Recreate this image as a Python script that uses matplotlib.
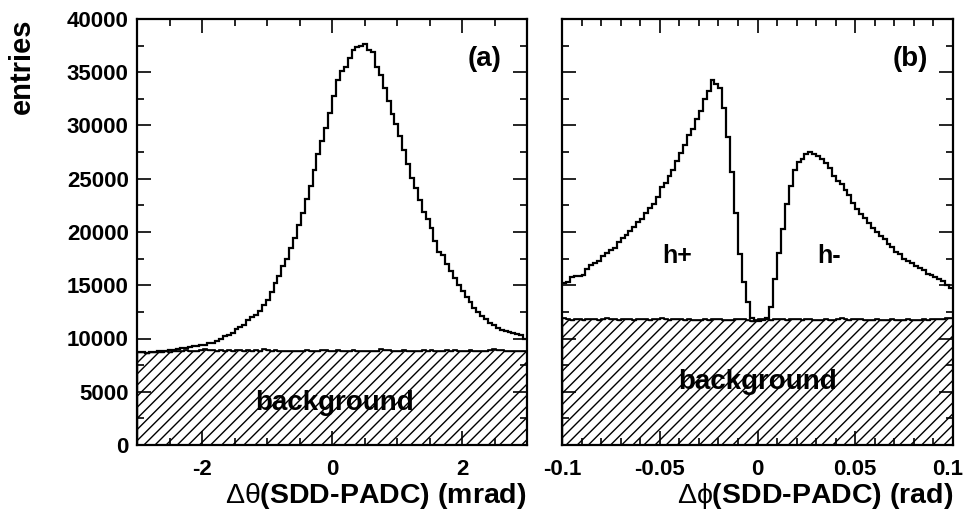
#!/usr/bin/env python3
# -*- coding: utf-8 -*-
from __future__ import annotations

import matplotlib

matplotlib.use("Agg")
import matplotlib.pyplot as plt
import matplotlib.transforms as mtransforms
import numpy as np
from matplotlib.ticker import MultipleLocator

FONT = ["Liberation Sans", "DejaVu Sans"]
plt.rcParams["mathtext.fontset"] = "custom"
plt.rcParams["mathtext.rm"] = "Liberation Sans"
plt.rcParams["mathtext.it"] = "Liberation Sans"
plt.rcParams["mathtext.bf"] = "Liberation Sans:bold"

# (a) delta theta, 100 bins over -3..3 mrad
THETA_RANGE = (-3.0, 3.0)
THETA_TOTAL = [
    8750, 8700, 8650, 8700, 8750, 8800, 8800, 8850, 8900, 8900,
    9000, 9100, 9150, 9200, 9250, 9300, 9350, 9400, 9550, 9600,
    9800, 9950, 10250, 10300, 10500, 10850, 11050, 11250, 11700, 12000,
    12200, 12600, 13100, 13600, 14400, 15200, 15900, 16800, 17500, 18500,
    19400, 20700, 21800, 23100, 24300, 25800, 27300, 28500, 29800, 31200,
    32800, 34300, 35100, 35500, 36300, 37100, 37400, 37450, 37650, 37100,
    36900, 35500, 34700, 33500, 32300, 31100, 30100, 29000, 27700, 26400,
    25100, 24100, 23000, 21900, 21200, 20400, 19200, 18100, 17800, 17000,
    16300, 15700, 15000, 14500, 13900, 13400, 12900, 12500, 12100, 11800,
    11500, 11300, 11000, 10800, 10700, 10600, 10500, 10400, 10300, 10000,
]
THETA_BKG = [
    8750, 8700, 8650, 8700, 8750, 8700, 8750, 8800, 8750, 8800,
    8850, 8800, 8900, 8850, 8800, 8850, 8900, 9050, 8950, 8900,
    8850, 8900, 8850, 8900, 8850, 8950, 8900, 8850, 8900, 8850,
    8900, 8850, 9050, 8900, 8850, 8900, 8850, 8800, 8850, 8800,
    8850, 8800, 8850, 8900, 8850, 8800, 8850, 8900, 8900, 8850,
    8850, 8900, 8850, 8800, 8850, 8900, 8850, 8800, 8850, 8800,
    8850, 8850, 9000, 8950, 8900, 8850, 8800, 8850, 8900, 8850,
    8850, 8800, 8850, 8900, 8850, 8900, 8850, 8800, 8850, 8900,
    8850, 8900, 8850, 8800, 8850, 8900, 8850, 8800, 8850, 8850,
    8900, 9000, 8950, 8900, 8850, 8800, 8850, 8850, 8800, 8850,
]

# (b) delta phi, 100 bins over -0.1..0.1 rad
PHI_RANGE = (-0.1, 0.1)
PHI_TOTAL = [
    15200, 15300, 15800, 15900, 15850, 16000, 16500, 16900, 17100, 17300,
    17700, 18000, 18300, 18500, 19100, 19400, 19700, 20100, 20500, 20900,
    21200, 21800, 22300, 22600, 23300, 24200, 24600, 25300, 25800, 26700,
    27400, 28200, 29100, 29700, 30600, 31400, 32500, 33200, 34300, 33900,
    33500, 31600, 28900, 25600, 21800, 17900, 15300, 13400, 11900, 11600,
    11600, 11700, 11900, 13000, 15600, 18000, 20300, 22600, 24300, 25800,
    26600, 26900, 27300, 27500, 27300, 27100, 26900, 26500, 26000, 25300,
    24800, 24500, 23900, 23500, 22700, 22200, 21700, 21300, 20800, 20400,
    20000, 19600, 19300, 18900, 18600, 18100, 17900, 17500, 17300, 17100,
    16800, 16600, 16400, 16100, 16000, 15800, 15600, 15400, 15000, 14700,
]
PHI_BKG = [
    11900, 11800, 11750, 11800, 11850, 11750, 11800, 11850, 11800, 11750,
    11800, 11900, 11800, 11850, 11750, 11800, 11850, 11800, 11750, 11800,
    11850, 11800, 11750, 11800, 11850, 11900, 11800, 11750, 11800, 11850,
    11800, 11750, 11800, 11750, 11700, 11750, 11800, 11750, 11800, 11850,
    11800, 11750, 11700, 11750, 11800, 11850, 11800, 11700, 11650, 11750,
    11800, 11850, 11800, 11750, 11800, 11850, 11800, 11750, 11800, 11850,
    11800, 11750, 11800, 11850, 11750, 11700, 11750, 11800, 11750, 11700,
    11800, 11900, 11800, 11750, 11800, 11850, 11800, 11750, 11700, 11750,
    11800, 11750, 11700, 11750, 11800, 11750, 11700, 11750, 11800, 11750,
    11700, 11750, 11800, 11750, 11800, 11850, 11800, 11850, 11900, 11950,
]

Y_MAX = 40000


def draw_panel(ax, total, bkg, x_range, major, minor, tag):
    edges = np.linspace(x_range[0], x_range[1], len(total) + 1)
    ax.stairs(bkg, edges, baseline=0, fill=True, facecolor="white",
              edgecolor="black", hatch="///", linewidth=1.0)
    ax.stairs(bkg, edges, baseline=None, color="black", linewidth=1.2)
    ax.stairs(total, edges, baseline=None, color="black", linewidth=1.6)

    ax.set_xlim(*x_range)
    ax.set_ylim(0, Y_MAX)
    ax.xaxis.set_major_locator(MultipleLocator(major))
    ax.xaxis.set_minor_locator(MultipleLocator(minor))
    ax.yaxis.set_major_locator(MultipleLocator(5000))
    ax.yaxis.set_minor_locator(MultipleLocator(2500))
    ax.tick_params(which="both", direction="in", top=True, right=True,
                   width=1.2, labelsize=16)
    ax.tick_params(axis="x", pad=10)
    ax.tick_params(axis="y", pad=6)
    ax.tick_params(which="major", length=10)
    ax.tick_params(which="minor", length=5)
    for s in ax.spines.values():
        s.set_linewidth(1.6)
    for lab in ax.get_yticklabels():
        lab.set_fontweight("bold")
        lab.set_family(FONT)
    ax.text(0.935, 0.905, tag, transform=ax.transAxes, ha="right", va="center",
            fontsize=20, fontweight="bold", family=FONT)


def main() -> None:
    fig = plt.figure(figsize=(9.66, 5.26), dpi=100)
    W, H = 966, 526
    ax_a = fig.add_axes([137 / W, 1 - 445 / H, 390 / W, 426 / H])
    ax_b = fig.add_axes([562 / W, 1 - 445 / H, 391 / W, 426 / H])

    draw_panel(ax_a, THETA_TOTAL, THETA_BKG, THETA_RANGE, 2, 0.5, "(a)")
    draw_panel(ax_b, PHI_TOTAL, PHI_BKG, PHI_RANGE, 0.05, 0.01, "(b)")

    ax_b.set_yticklabels([])
    ax_b.set_xticks([-0.1, -0.05, 0, 0.05, 0.1])
    ax_b.set_xticklabels(["-0.1", "-0.05", "0", "0.05", "0.1"],
                         fontweight="bold", family=FONT)
    ax_a.set_xticks([-2, 0, 2])
    ax_a.set_xticklabels(["-2", "0", "2"], fontweight="bold", family=FONT)

    # ROOT keeps the last label inside the canvas
    last = ax_b.get_xticklabels()[-1]
    shift = mtransforms.ScaledTranslation(-5 / 100, 0, fig.dpi_scale_trans)
    last.set_transform(last.get_transform() + shift)

    txt = dict(fontweight="bold", family=FONT, ha="center", va="center")
    ax_a.text(0.04, 3900, "background", fontsize=20, **txt)
    ax_b.text(0.0003, 5950, "background", fontsize=20, **txt)
    ax_b.text(-0.041, 17700, "h+", fontsize=18, **txt)
    ax_b.text(0.0366, 17700, "h-", fontsize=18, **txt)

    fig.text(22 / W, 1 - 19 / H, "entries", rotation=90, ha="center", va="top",
             fontsize=21, fontweight="bold", family=FONT)
    fig.text(527 / W, 1 - 496 / H, r"$\Delta\theta$(SDD-PADC) (mrad)",
             ha="right", va="center", fontsize=20.5, fontweight="bold", family=FONT)
    fig.text(953 / W, 1 - 496 / H, r"$\Delta\phi$(SDD-PADC) (rad)",
             ha="right", va="center", fontsize=20.5, fontweight="bold", family=FONT)

    fig.savefig("out.png", dpi=100)
    plt.close(fig)


if __name__ == "__main__":
    main()
